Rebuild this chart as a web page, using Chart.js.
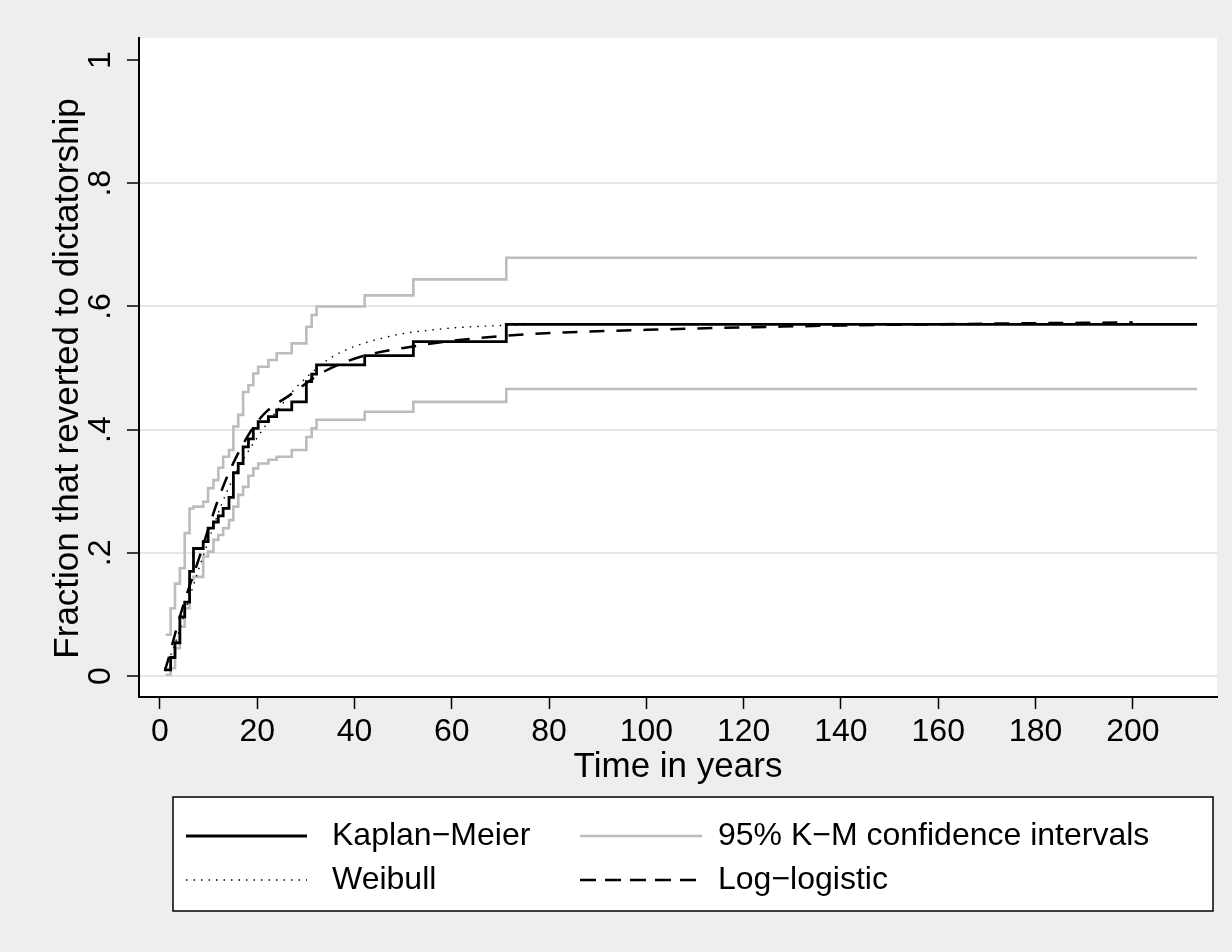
<!DOCTYPE html>
<html>
<head>
<meta charset="utf-8">
<script src="https://cdn.jsdelivr.net/npm/chart.js@4.4.1/dist/chart.umd.min.js"></script>
<style>
  html, body { margin: 0; padding: 0; background: #eeeeee; }
  #wrap { width: 1232px; height: 952px; }
</style>
</head>
<body>
<div id="wrap"><canvas id="c" width="1232" height="952"></canvas></div>
<script>
// ---- Data ----
const eventTime = [1.2, 2.2, 3.1, 4.1, 5.1, 6.1, 6.9, 8.9, 9.9, 11, 12, 13, 14.2, 15.1, 16.1, 17.1, 18.2, 19.2, 20.2, 22.3, 24, 27.1, 30.1, 31.2, 32.2, 42.1, 52.1, 71.2, 213.2];
const kaplanMeier = [0.01, 0.03, 0.054, 0.096, 0.12, 0.17, 0.207, 0.218, 0.24, 0.25, 0.26, 0.272, 0.29, 0.33, 0.345, 0.372, 0.385, 0.402, 0.413, 0.421, 0.432, 0.445, 0.478, 0.49, 0.505, 0.52, 0.543, 0.571, 0.571];
const ciUpper = [0.067, 0.11, 0.15, 0.175, 0.232, 0.272, 0.275, 0.283, 0.305, 0.318, 0.338, 0.356, 0.367, 0.405, 0.424, 0.461, 0.472, 0.491, 0.502, 0.513, 0.524, 0.54, 0.567, 0.586, 0.6, 0.618, 0.644, 0.679, 0.679];
const ciLower = [0.002, 0.0125, 0.045, 0.08, 0.11, 0.156, 0.161, 0.194, 0.202, 0.221, 0.229, 0.24, 0.253, 0.275, 0.294, 0.307, 0.325, 0.337, 0.345, 0.351, 0.356, 0.367, 0.388, 0.402, 0.416, 0.429, 0.445, 0.466, 0.466];

const weibullTime = [1, 2, 3, 5, 7, 10, 12.5, 15, 17.5, 20, 22.5, 25, 27.5, 30, 35, 40, 45, 50, 55, 60, 70, 80, 100, 150, 200];
const weibullFrac = [0.012, 0.03, 0.05, 0.1, 0.15, 0.22, 0.275, 0.32, 0.356, 0.387, 0.415, 0.44, 0.464, 0.484, 0.516, 0.535, 0.547, 0.556, 0.561, 0.565, 0.569, 0.571, 0.572, 0.572, 0.572];

const logLogTime = [1, 2, 3, 5, 8, 10, 12, 14.4, 17, 19.5, 22, 26.7, 30, 33, 36.6, 42.5, 52, 61, 76, 100, 120, 140, 170, 200];
const logLogFrac = [0.008, 0.035, 0.065, 0.12, 0.19, 0.24, 0.287, 0.334, 0.375, 0.407, 0.43, 0.456, 0.475, 0.491, 0.505, 0.521, 0.535, 0.545, 0.555, 0.562, 0.566, 0.569, 0.572, 0.574];

const xTickValues = [0, 20, 40, 60, 80, 100, 120, 140, 160, 180, 200];
const yTickValues = [0, 0.2, 0.4, 0.6, 0.8, 1];
const yTickLabels = ['0', '.2', '.4', '.6', '.8', '1'];

const seriesNames = ['Kaplan\u2212Meier', '95% K\u2212M confidence intervals', 'Weibull', 'Log\u2212logistic'];
const xTitle = 'Time in years';
const yTitle = 'Fraction that reverted to dictatorship';

// ---- helpers ----
const pts = (xs, ys) => xs.map((x, i) => ({ x: x, y: ys[i] }));
const FONT = '"Liberation Sans", Arial, Helvetica, sans-serif';
const GRAY = '#bcbcbc';

const bgPlugin = {
  id: 'bg',
  beforeDraw(chart) {
    const { ctx, chartArea: a } = chart;
    ctx.save();
    ctx.fillStyle = '#eeeeee';
    ctx.fillRect(0, 0, chart.width, chart.height);
    ctx.fillStyle = '#ffffff';
    ctx.fillRect(a.left, a.top, a.right - a.left, a.bottom - a.top);
    ctx.restore();
  }
};

// y-axis title (Stata centres it slightly lower than the plot region centre)
const yTitlePlugin = {
  id: 'yTitle',
  afterDraw(chart) {
    const ctx = chart.ctx;
    const a = chart.chartArea;
    ctx.save();
    ctx.translate(68, (a.top + a.bottom) / 2 + 11);
    ctx.rotate(-Math.PI / 2);
    ctx.font = '35px ' + FONT;
    ctx.fillStyle = '#000';
    ctx.textAlign = 'center';
    ctx.textBaseline = 'middle';
    ctx.fillText(yTitle, 0, 0);
    ctx.restore();
  }
};

const legendPlugin = {
  id: 'stataLegend',
  afterDraw(chart) {
    const ctx = chart.ctx;
    const box = { l: 173, t: 797, r: 1213, b: 911 };
    ctx.save();
    ctx.fillStyle = '#ffffff';
    ctx.fillRect(box.l, box.t, box.r - box.l, box.b - box.t);
    ctx.strokeStyle = '#000';
    ctx.lineWidth = 1.5;
    ctx.strokeRect(box.l, box.t, box.r - box.l, box.b - box.t);

    const rows = [836, 880];
    const items = [
      { col: 0, row: 0, ds: 0, name: seriesNames[0] },
      { col: 1, row: 0, ds: 1, name: seriesNames[1] },
      { col: 0, row: 1, ds: 3, name: seriesNames[2] },
      { col: 1, row: 1, ds: 4, name: seriesNames[3] }
    ];
    const cols = [{ s: 186, e: 307, tx: 332 }, { s: 580, e: 702, tx: 718 }];
    items.forEach((it) => {
      const d = chart.data.datasets[it.ds];
      const c = cols[it.col];
      const y = rows[it.row];
      ctx.beginPath();
      ctx.strokeStyle = d.borderColor;
      ctx.lineWidth = d.borderWidth;
      ctx.setLineDash(d.legendDash || d.borderDash || []);
      ctx.moveTo(c.s, y);
      ctx.lineTo(c.e, y);
      ctx.stroke();
      ctx.setLineDash([]);
      ctx.fillStyle = '#000';
      ctx.font = '32px ' + FONT;
      ctx.textBaseline = 'middle';
      ctx.textAlign = 'left';
      ctx.fillText(it.name, c.tx, y);
    });
    ctx.restore();
  }
};

const chart = new Chart(document.getElementById('c'), {
  type: 'line',
  data: {
    datasets: [
      { label: seriesNames[0], data: pts(eventTime, kaplanMeier), stepped: 'before', borderColor: '#000', borderWidth: 2.8, pointRadius: 0, order: 0 },
      { label: seriesNames[1], data: pts(eventTime, ciUpper), stepped: 'before', borderColor: GRAY, borderWidth: 2.6, pointRadius: 0, order: 5 },
      { label: seriesNames[1] + ' (lower)', data: pts(eventTime, ciLower), stepped: 'before', borderColor: GRAY, borderWidth: 2.6, pointRadius: 0, order: 5 },
      { label: seriesNames[2], data: pts(weibullTime, weibullFrac), borderColor: '#000', borderWidth: 1.4, borderDash: [1.5, 6], pointRadius: 0, cubicInterpolationMode: 'monotone', order: 2 },
      { label: seriesNames[3], data: pts(logLogTime, logLogFrac), borderColor: '#000', borderWidth: 2.5, borderDash: [15, 12], legendDash: [16, 9], pointRadius: 0, cubicInterpolationMode: 'monotone', order: 1 }
    ]
  },
  options: {
    responsive: false,
    animation: false,
    devicePixelRatio: 1,
    layout: { padding: { left: 0, top: 38, right: 15, bottom: 155 } },
    plugins: { legend: { display: false }, tooltip: { enabled: false } },
    scales: {
      x: {
        type: 'linear',
        min: -4.3,
        max: 217.3,
        afterBuildTicks: s => { s.ticks = xTickValues.map(v => ({ value: v })); },
        afterFit: s => { s.height = 100; },
        border: { display: true, color: '#000', width: 2 },
        grid: { drawOnChartArea: false, drawTicks: true, tickLength: 12, tickColor: '#000', tickWidth: 1.5 },
        ticks: { color: '#000', font: { family: FONT, size: 32 }, padding: 4, maxRotation: 0, autoSkip: false },
        title: { display: true, text: xTitle, color: '#000', font: { family: FONT, size: 35 }, padding: { top: 0, bottom: 9 } }
      },
      y: {
        type: 'linear',
        min: -0.0341,
        max: 1.0358,
        afterBuildTicks: s => { s.ticks = yTickValues.map(v => ({ value: v })); },
        afterFit: s => { s.width = 139; },
        border: { display: true, color: '#000', width: 2 },
        grid: {
          drawOnChartArea: true,
          color: c => (c.tick && c.tick.value === 1 ? 'rgba(0,0,0,0)' : '#e6e6e6'),
          lineWidth: 2,
          drawTicks: true, tickLength: 12, tickColor: '#000', tickWidth: 1.5
        },
        ticks: {
          color: '#000', font: { family: FONT, size: 32 }, padding: 12,
          minRotation: 90, maxRotation: 90, crossAlign: 'center', autoSkip: false,
          callback: (v) => { const i = yTickValues.indexOf(v); return i >= 0 ? yTickLabels[i] : ''; }
        },
        title: { display: false, text: yTitle }
      }
    }
  },
  plugins: [bgPlugin, legendPlugin, yTitlePlugin]
});
</script>
</body>
</html>
